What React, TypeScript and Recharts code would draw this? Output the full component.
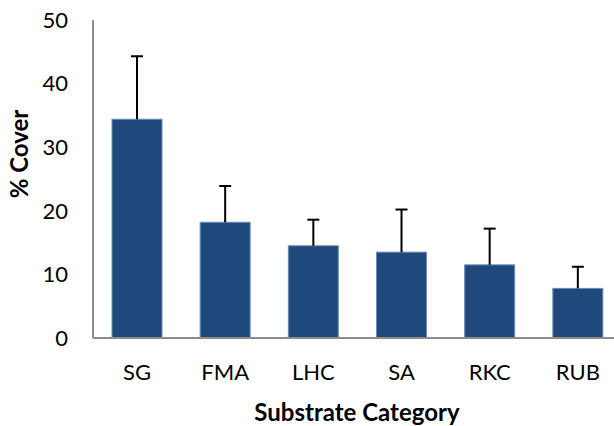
import React from "react";
import { BarChart, Bar, XAxis, YAxis } from "recharts";

const categories = ["SG", "FMA", "LHC", "SA", "RKC", "RUB"];
const cover = [34.4, 18.2, 14.5, 13.5, 11.5, 7.8];
const coverErr = [9.9, 5.7, 4.1, 6.7, 5.7, 3.4];
const yTicks = [0, 10, 20, 30, 40, 50];

const data = categories.map((name, i) => ({ name, cover: cover[i], err: coverErr[i] }));

const FONT = "Lato, 'Open Sans', sans-serif";

// bar plus upper-only whisker, the way Excel draws "plus" error bars
const BarWithError = (props: any) => {
  const { x, y, width, height, payload, value } = props;
  const pxPerUnit = value ? height / value : 0;
  const top = y - payload.err * pxPerUnit;
  const cx = x + width / 2;
  return (
    <g>
      <rect x={x} y={y} width={width} height={height} fill="#1F497D" stroke="#6F8DB3" strokeWidth={1} />
      <line x1={cx} y1={y} x2={cx} y2={top} stroke="#000" strokeWidth={2} />
      <line x1={cx - 6} y1={top} x2={cx + 6} y2={top} stroke="#000" strokeWidth={2} />
    </g>
  );
};

const YTitle = () => (
  <text
    x={28}
    y={154}
    transform="rotate(-90 28 154)"
    textAnchor="middle"
    fontFamily={FONT}
    fontWeight="bold"
    fontSize={24}
    fill="#000"
  >
    % Cover
  </text>
);

const XTitle = () => (
  <text x={357} y={421} textAnchor="middle" fontFamily={FONT} fontWeight="bold" fontSize={24} fill="#000">
    Substrate Category
  </text>
);

export default function App() {
  return (
    <div style={{ position: "fixed", top: 0, left: 0, width: 614, height: 426, overflow: "hidden", background: "#fff" }}>
      <BarChart width={622} height={426} data={data} margin={{ top: 20, right: 0, bottom: 0, left: 0 }}>
        <XAxis
          dataKey="name"
          height={88}
          axisLine={{ stroke: "#8C8C8C", strokeWidth: 2 }}
          tickLine={false}
          tickMargin={20}
          tick={{ fill: "#000", fontSize: 22, fontFamily: FONT }}
          label={{ content: () => <XTitle /> }}
        />
        <YAxis
          width={93}
          domain={[0, 50]}
          ticks={yTicks}
          interval={0}
          axisLine={{ stroke: "#8C8C8C", strokeWidth: 2 }}
          tickLine={false}
          tickMargin={19}
          tick={{ fill: "#000", fontSize: 22, fontFamily: FONT }}
          label={{ content: () => <YTitle /> }}
        />
        <Bar dataKey="cover" barSize={50} shape={BarWithError} isAnimationActive={false} />
      </BarChart>
    </div>
  );
}
